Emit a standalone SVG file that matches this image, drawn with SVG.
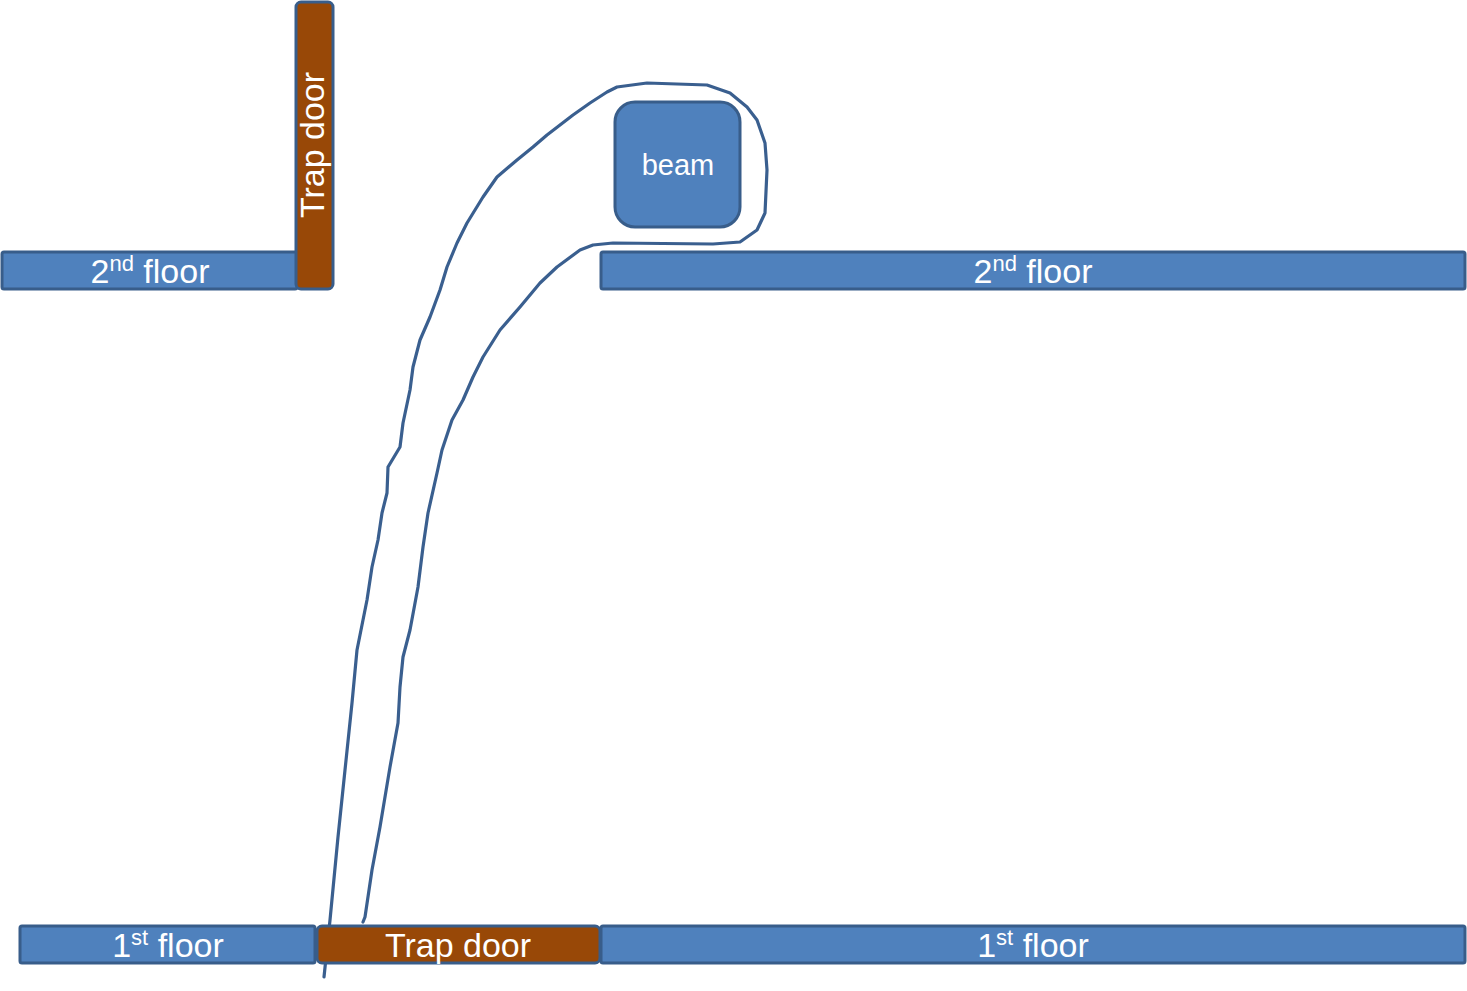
<svg xmlns="http://www.w3.org/2000/svg" width="1467" height="991" viewBox="0 0 1467 991">
<style>
.floor{fill:#4F81BD;stroke:#385D8A;stroke-width:3}
.door{fill:#984807;stroke:#385D8A;stroke-width:3}
.lbl{font-family:"Liberation Sans",Arial,sans-serif;font-size:34px;fill:#FFFFFF;text-anchor:middle}
.sup{font-size:22px}
.curve{fill:none;stroke:#3A5F8F;stroke-width:3.2;stroke-linejoin:round;stroke-linecap:round}
</style>
<rect width="1467" height="991" fill="#FFFFFF"/>
<g id="connectors">
<path class="curve" d="M324,977 L330,920 L338,837 L345,770 L352,703 L357,650 L363,620 L367,600 L372,567 L378,540 L382,513 L387,493 L388,467 L400,447 L403,423 L410,390 L413,367 L420,340 L430,317 L440,290 L447,267 L457,243 L467,223 L483,197 L497,177 L517,160 L533,147 L547,135 L573,115 L590,103 L607,92 L617,87 L647,83 L707,85 L730,93 L747,107 L757,120 L765,143 L767,170 L765,213 L757,230 L740,242 L713,244 L613,243 L593,245 L580,250 L557,267 L540,283 L520,307 L500,330 L483,357 L473,377 L463,400 L452,420 L442,450 L437,473 L428,513 L423,547 L418,587 L410,630 L403,657 L400,687 L398,723 L390,767 L380,827 L372,870 L365,917 L363,922"/>
</g>
<g id="floor2-left">
<rect class="floor" x="2" y="252" width="295" height="37" rx="2"/>
<text class="lbl" x="150" y="283">2<tspan class="sup" dy="-12">nd</tspan><tspan dy="12"> floor</tspan></text>
</g>
<g id="trapdoor-top">
<rect class="door" x="296" y="2" width="37" height="287" rx="5"/>
<text class="lbl" transform="translate(324,145) rotate(-90)">Trap door</text>
</g>
<g id="floor2-right">
<rect class="floor" x="601" y="252" width="864" height="37" rx="2"/>
<text class="lbl" x="1033" y="283">2<tspan class="sup" dy="-12">nd</tspan><tspan dy="12"> floor</tspan></text>
</g>
<g id="beam">
<rect class="floor" x="615" y="102" width="125" height="125" rx="20"/>
<text class="lbl" x="678" y="175" style="font-size:29px">beam</text>
</g>
<g id="floor1-left">
<rect class="floor" x="20" y="926" width="295" height="37" rx="2"/>
<text class="lbl" x="168" y="957">1<tspan class="sup" dy="-12">st</tspan><tspan dy="12"> floor</tspan></text>
</g>
<g id="trapdoor-bottom">
<rect class="door" x="317" y="926" width="283" height="37" rx="5"/>
<text class="lbl" x="458" y="957">Trap door</text>
</g>
<g id="floor1-right">
<rect class="floor" x="601" y="926" width="864" height="37" rx="2"/>
<text class="lbl" x="1033" y="957">1<tspan class="sup" dy="-12">st</tspan><tspan dy="12"> floor</tspan></text>
</g>
</svg>
